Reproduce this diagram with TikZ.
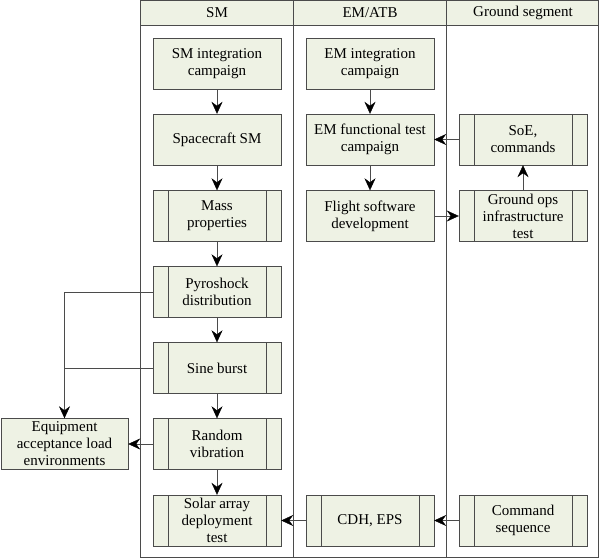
\documentclass[tikz,border=0pt]{standalone}
\usepackage{fontspec}
\setmainfont{Liberation Serif}
\usepackage{xcolor}
\usepackage{tikz}
\usetikzlibrary{arrows.meta}
\definecolor{boxfill}{RGB}{238,242,228}
\definecolor{linegray}{RGB}{75,75,75}
\tikzset{
    box/.style={draw=linegray, fill=boxfill, minimum width=128pt, minimum height=51pt,
        align=center, inner xsep=2pt, inner ysep=0pt, font=\fontsize{15}{17}\selectfont},
    procbox/.style={box, path picture={
        \draw[linegray] ([xshift=15pt]path picture bounding box.north west) -- ([xshift=15pt]path picture bounding box.south west);
        \draw[linegray] ([xshift=-15pt]path picture bounding box.north east) -- ([xshift=-15pt]path picture bounding box.south east);}},
    flow/.style={draw=linegray, -{Stealth[length=12pt,width=11pt,inset=4pt,color=black]}},
    lane/.style={font=\fontsize{15}{17}\selectfont}
}

\begin{document}
\begin{tikzpicture}[x=1pt, y=-1pt]
        \useasboundingbox (0,0) rectangle (600,559);

        % Lanes and headers
        \draw[linegray, fill=boxfill] (140,0) rectangle (598,25);
        \draw[linegray] (140,0) rectangle (598,557);
        \draw[linegray] (293,0) -- (293,557);
        \draw[linegray] (446,0) -- (446,557);
        \node[lane] (hsm) at (217,12.5) {SM};
        \node[lane] (hem) at (370,12.5) {EM/ATB};
        \node[lane] (hgs) at (523,12.5) {Ground segment};

        % SM column
        \node[box] (smint) at (217,63.5) {SM integration\\campaign};
        \node[box] (scsm) at (217,139.5) {Spacecraft SM};
        \node[procbox] (mass) at (217,216) {Mass\\properties};
        \node[procbox] (pyro) at (217,292) {Pyroshock\\distribution};
        \node[procbox] (sine) at (217,368) {Sine burst};
        \node[procbox] (random) at (217,444) {Random\\vibration};
        \node[procbox] (solar) at (217,520.5) {Solar array\\deployment\\test};

        % EM/ATB column
        \node[box] (emint) at (370,63.5) {EM integration\\campaign};
        \node[box] (emfunc) at (370,139.5) {EM functional test\\campaign};
        \node[box] (flightsw) at (370,216) {Flight software\\development};
        \node[procbox] (cdh) at (370,520.5) {CDH, EPS};

        % Ground segment column
        \node[procbox] (soe) at (523,139.5) {SoE,\\commands};
        \node[procbox] (groundops) at (523,216) {Ground ops\\infrastructure\\test};
        \node[procbox] (cmdseq) at (523,520.5) {Command\\sequence};

        % outside the lanes
        \node[box, minimum width=127pt] (equip) at (64.5,444) {Equipment\\acceptance load\\environments};

        % arrows down the columns
        \draw[flow] (smint.south) -- (scsm.north);
        \draw[flow] (scsm.south) -- (mass.north);
        \draw[flow] (mass.south) -- (pyro.north);
        \draw[flow] (pyro.south) -- (sine.north);
        \draw[flow] (sine.south) -- (random.north);
        \draw[flow] (random.south) -- (solar.north);
        \draw[flow] (emint.south) -- (emfunc.north);
        \draw[flow] (emfunc.south) -- (flightsw.north);

        % arrows across
        \draw[flow] (flightsw.east) -- (groundops.west);
        \draw[flow] (groundops.north) -- (soe.south);
        \draw[flow] (soe.west) -- (emfunc.east);
        \draw[flow] (cmdseq.west) -- (cdh.east);
        \draw[flow] (cdh.west) -- (solar.east);

        % loads to the equipment
        \draw[flow] (pyro.west) -| (equip.north);
        \draw[linegray] (sine.west) -- (sine.west -| equip.north);
        \draw[flow] (random.west) -- (equip.east);
    \end{tikzpicture}
\end{document}
